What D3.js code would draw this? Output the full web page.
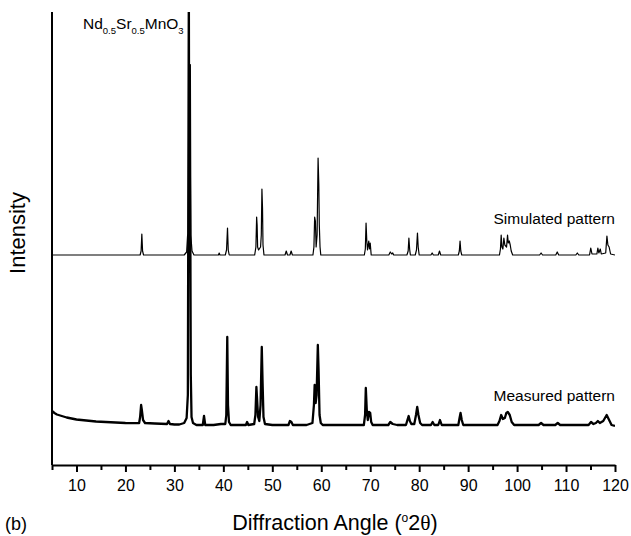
<!DOCTYPE html>
<html>
<head>
<meta charset="utf-8">
<script src="https://cdn.jsdelivr.net/npm/d3@7"></script>
<style>
    body { margin: 0; background: #fff; }
    text { font-family: "Liberation Sans", Arial, sans-serif; fill: #000; }
</style>
</head>
<body>
<div id="chart"></div>
<script>
// tick values on the angle axis
const majorTicks = [10, 20, 30, 40, 50, 60, 70, 80, 90, 100, 110, 120];
const minorTicks = [5, 15, 25, 35, 45, 55, 65, 75, 85, 95, 105, 115];

// [2theta, intensity]; simulated is relative to its own baseline
const simulatedPattern = [
    [5, 0], [23.0, 0], [23.2, 4], [23.35, 21], [23.5, 4], [23.7, 0],
    [32.0, 0], [32.5, 3], [32.7, 20], [32.85, 12], [33.0, 300], [33.1, 40], [33.2, 130], [33.35, 20], [33.6, 4], [34.0, 0],
    [39.0, 0], [39.15, 2], [39.3, 0],
    [40.4, 0], [40.65, 5], [40.85, 27], [41.0, 5], [41.2, 0],
    [46.4, 0], [46.65, 8], [46.8, 38], [46.9, 30], [47.0, 8], [47.2, 5], [47.6, 8], [47.75, 20], [47.88, 66], [48.0, 47], [48.1, 10], [48.3, 0],
    [52.6, 0], [52.85, 4], [53.1, 0], [53.6, 0], [53.85, 4], [54.1, 0],
    [58.3, 0], [58.5, 8], [58.65, 38], [58.8, 34], [58.95, 8], [59.15, 20], [59.35, 97], [59.5, 70], [59.6, 30], [59.75, 8], [59.9, 0],
    [68.8, 0], [69.0, 6], [69.15, 32], [69.3, 14], [69.45, 5], [69.7, 14], [69.85, 6], [70.0, 12], [70.2, 0],
    [73.8, 0], [74.1, 3], [74.4, 1], [74.6, 2], [74.8, 0],
    [77.5, 0], [77.75, 4], [77.9, 17], [78.05, 6], [78.2, 0],
    [79.2, 0], [79.45, 5], [79.65, 22], [79.8, 8], [80.0, 0],
    [82.4, 0], [82.65, 2], [82.9, 0], [83.9, 0], [84.15, 4], [84.4, 0],
    [88.0, 0], [88.2, 4], [88.35, 14], [88.5, 4], [88.7, 0],
    [96.4, 0], [96.6, 6], [96.75, 20], [96.9, 8], [97.1, 6], [97.3, 17], [97.5, 10], [97.85, 8], [98.05, 20], [98.2, 12], [98.4, 14], [98.6, 10], [98.8, 4], [99.1, 0],
    [104.6, 0], [104.9, 2], [105.2, 0], [107.9, 0], [108.2, 3], [108.5, 0], [112.0, 0], [112.3, 2], [112.6, 0],
    [114.8, 0], [115.05, 7], [115.3, 1], [116.3, 1], [116.5, 7], [116.7, 2], [117.0, 6], [117.2, 1],
    [118.1, 2], [118.35, 19], [118.55, 10], [118.8, 8], [119.1, 1], [120, 0]
];

const measuredPattern = [
    [5, 54], [5.5, 52], [6, 50.5], [7, 49], [8, 47.5], [9, 46.5], [10, 45.5], [12, 44.5], [14, 43.5], [16, 43], [18, 42.5], [20, 42], [22, 41.8],
    [22.8, 42], [23.0, 48], [23.2, 60], [23.35, 55], [23.6, 45], [24, 42], [26, 41.5], [28.5, 41], [28.8, 44], [29.1, 41], [30, 40.5], [31, 40.5],
    [32.0, 42], [32.5, 47], [32.75, 70], [32.95, 480], [33.05, 200], [33.15, 400], [33.35, 90], [33.5, 48], [33.8, 42], [34.5, 40],
    [35.8, 40], [36.05, 49], [36.3, 40], [38, 40], [39.5, 41],
    [40.4, 41], [40.6, 50], [40.8, 128], [40.95, 60], [41.15, 43], [41.5, 40],
    [44.6, 40], [44.85, 43], [45.1, 40],
    [46.3, 41], [46.55, 50], [46.75, 78], [46.9, 65], [47.1, 48], [47.35, 44], [47.6, 60], [47.85, 118], [48.0, 85], [48.2, 48], [48.5, 41],
    [50, 40], [53.3, 40], [53.6, 44], [53.9, 43], [54.2, 40], [57, 40],
    [58.2, 42], [58.5, 60], [58.65, 80], [58.85, 62], [59.05, 70], [59.3, 120], [59.45, 95], [59.65, 50], [59.9, 42], [60.3, 40],
    [64, 40], [68.7, 40], [68.95, 50], [69.1, 77], [69.3, 55], [69.5, 45], [69.75, 53], [70.0, 52], [70.2, 43], [70.5, 40],
    [73.7, 40], [74.1, 43], [74.6, 41], [75.5, 40],
    [77.3, 40], [77.6, 45], [77.85, 49], [78.1, 44], [78.4, 41], [79.0, 41], [79.35, 50], [79.6, 58], [79.85, 50], [80.2, 42], [80.6, 40],
    [82.4, 40], [82.75, 43], [83.1, 40], [83.9, 40], [84.25, 45], [84.6, 40],
    [88.0, 40], [88.25, 47], [88.45, 52], [88.7, 45], [89.0, 40],
    [96.0, 40], [96.4, 44], [96.75, 50], [97.1, 46], [97.5, 47], [97.8, 52], [98.1, 53], [98.5, 50], [98.9, 43], [99.4, 40],
    [104.4, 40], [104.9, 42], [105.4, 40], [107.8, 40], [108.3, 42], [108.8, 40],
    [114.6, 40], [115.1, 43], [115.6, 41], [116.1, 42], [116.5, 44], [116.9, 42], [117.6, 44], [118.3, 50], [118.8, 45], [119.3, 40], [120, 39]
];

const simulatedOffset = 210;

const width = 631, height = 536;
const margin = {top: 12, right: 16, bottom: 71, left: 52};

const svg = d3.select("#chart").append("svg")
    .attr("width", width)
    .attr("height", height);

const x = d3.scaleLinear()
    .domain([5, 120])
    .range([margin.left, width - margin.right]);

const y = d3.scaleLinear()
    .domain([0, 453])
    .range([height - margin.bottom, margin.top]);

svg.append("clipPath").attr("id", "plot-clip")
    .append("rect")
    .attr("x", margin.left)
    .attr("y", margin.top)
    .attr("width", width - margin.left - margin.right)
    .attr("height", height - margin.top - margin.bottom);

// patterns
const line = d3.line()
    .x(d => x(d[0]))
    .y(d => y(d[1]));

const plot = svg.append("g").attr("clip-path", "url(#plot-clip)");

plot.append("path")
    .datum(measuredPattern)
    .attr("fill", "none")
    .attr("stroke", "#000")
    .attr("stroke-width", 2.3)
    .attr("stroke-linejoin", "round")
    .attr("d", line);

plot.append("path")
    .datum(simulatedPattern.map(d => [d[0], d[1] + simulatedOffset]))
    .attr("fill", "none")
    .attr("stroke", "#000")
    .attr("stroke-width", 1.2)
    .attr("stroke-linejoin", "round")
    .attr("d", line);

// axes
const xAxis = svg.append("g")
    .attr("transform", `translate(0, ${y(0)})`)
    .call(d3.axisBottom(x).tickValues(majorTicks).tickSize(7).tickPadding(8).tickSizeOuter(0));

xAxis.append("g")
    .call(d3.axisBottom(x).tickValues(minorTicks).tickSize(5).tickFormat("").tickSizeOuter(0))
    .select(".domain").remove();

xAxis.selectAll("line").attr("stroke-width", 2);
xAxis.select(".domain").attr("stroke-width", 2);
xAxis.selectAll("text")
    .attr("font-family", "Liberation Sans, Arial, sans-serif")
    .attr("font-size", 16);

svg.append("line")
    .attr("x1", margin.left).attr("x2", margin.left)
    .attr("y1", margin.top).attr("y2", y(0))
    .attr("stroke", "#000")
    .attr("stroke-width", 2);

// labels
const title = svg.append("text")
    .attr("x", 83)
    .attr("y", 29)
    .attr("font-size", 15.5);
title.append("tspan").text("Nd");
title.append("tspan").attr("font-size", 9.5).attr("dy", 5).text("0.5");
title.append("tspan").attr("dy", -5).text("Sr");
title.append("tspan").attr("font-size", 9.5).attr("dy", 5).text("0.5");
title.append("tspan").attr("dy", -5).text("MnO");
title.append("tspan").attr("font-size", 9.5).attr("dy", 5).text("3");

svg.append("text")
    .attr("x", x(120))
    .attr("y", 224)
    .attr("text-anchor", "end")
    .attr("font-size", 15.5)
    .text("Simulated pattern");

svg.append("text")
    .attr("x", x(120))
    .attr("y", 401)
    .attr("text-anchor", "end")
    .attr("font-size", 15.5)
    .text("Measured pattern");

svg.append("text")
    .attr("transform", "translate(25, 233) rotate(-90)")
    .attr("text-anchor", "middle")
    .attr("font-size", 22)
    .text("Intensity");

const xTitle = svg.append("text")
    .attr("x", 335)
    .attr("y", 530)
    .attr("text-anchor", "middle")
    .attr("font-size", 21.5);
xTitle.append("tspan").text("Diffraction Angle (");
xTitle.append("tspan").attr("font-size", 12).attr("dy", -8).text("o");
xTitle.append("tspan").attr("dy", 8).text("2");
xTitle.append("tspan").attr("font-family", "Liberation Serif, Times New Roman, serif").text("θ");
xTitle.append("tspan").text(")");

svg.append("text")
    .attr("x", 5)
    .attr("y", 530)
    .attr("font-family", "Liberation Serif, Times New Roman, serif")
    .attr("font-size", 18)
    .text("(b)");
</script>
</body>
</html>
